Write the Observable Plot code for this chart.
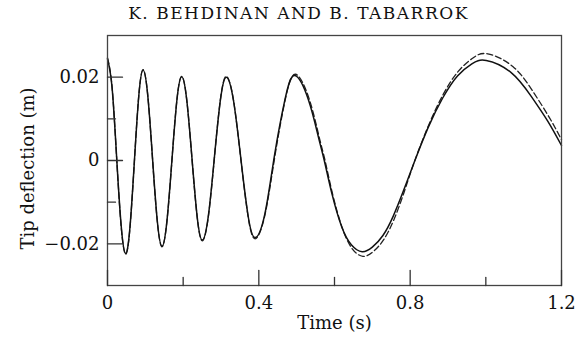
<!DOCTYPE html>
<html><head><meta charset="utf-8">
<script src="https://cdn.jsdelivr.net/npm/d3@7"></script>
<script src="https://cdn.jsdelivr.net/npm/@observablehq/plot@0.6"></script>
<style>body{margin:0;background:#fff;} #chart svg{font-family:"DejaVu Serif",serif;}</style>
</head><body><div id="chart"></div>
<script>
const title = "K. BEHDINAN AND B. TABARROK";
const xLabel = "Time (s)";
const yLabel = "Tip deflection (m)";
const xMajorTicks = [0, 0.4, 0.8, 1.2];
const xMinorTicks = [0.2, 0.6, 1.0];
const xTickLabels = ["0", "0.4", "0.8", "1.2"];
const yMajorTicks = [-0.02, 0, 0.02];
const yMinorTicks = [-0.01, 0.01];
const yTickLabels = ["\u22120.02", "0", "0.02"];

const solidT = [0.000,0.012,0.024,0.036,0.048,0.0595,0.071,0.0825,0.094,0.1065,0.119,0.1315,0.144,0.157,0.170,0.183,0.196,0.2096,0.2233,0.2369,0.2505,0.2664,0.2823,0.2981,0.314,0.333,0.352,0.371,0.390,0.416,0.441,0.469,0.495,0.531,0.557,0.573,0.593,0.619,0.645,0.673,0.700,0.728,0.755,0.783,0.810,0.848,0.886,0.925,0.963,1.001,1.067,1.120,1.164,1.200];
const solidY = [0.0244,0.0176,0.0010,-0.0155,-0.0223,-0.0159,-0.0003,0.0153,0.0217,0.0155,0.0005,-0.0144,-0.0206,-0.0146,-0.0003,0.0141,0.0201,0.0144,0.0005,-0.0134,-0.0191,-0.0134,0.0005,0.0143,0.0200,0.0144,0.0008,-0.0129,-0.0185,-0.0128,0.0010,0.0146,0.0204,0.0146,0.0058,0.0000,-0.0079,-0.0159,-0.0203,-0.0219,-0.0208,-0.0180,-0.0134,-0.0071,-0.0006,0.0080,0.0150,0.0203,0.0232,0.0240,0.0211,0.0154,0.0094,0.0036];

const dashedT = [0.000,0.012,0.024,0.036,0.048,0.0595,0.071,0.0825,0.094,0.1065,0.119,0.1315,0.144,0.157,0.170,0.183,0.196,0.2096,0.2233,0.2369,0.2505,0.2664,0.2823,0.2981,0.314,0.333,0.352,0.371,0.390,0.416,0.442,0.470,0.497,0.533,0.559,0.575,0.595,0.621,0.647,0.675,0.702,0.730,0.757,0.784,0.810,0.848,0.887,0.927,0.966,1.005,1.072,1.125,1.168,1.200];
const dashedY = [0.0246,0.0177,0.0009,-0.0157,-0.0225,-0.0160,-0.0003,0.0154,0.0218,0.0156,0.0004,-0.0145,-0.0207,-0.0147,-0.0003,0.0142,0.0202,0.0145,0.0004,-0.0135,-0.0193,-0.0136,0.0004,0.0144,0.0202,0.0145,0.0007,-0.0131,-0.0188,-0.0131,0.0008,0.0147,0.0207,0.0148,0.0058,0.0000,-0.0081,-0.0163,-0.0212,-0.0230,-0.0219,-0.0190,-0.0142,-0.0076,-0.0006,0.0083,0.0158,0.0214,0.0246,0.0256,0.0225,0.0165,0.0103,0.0050];

const solid = solidT.map((t, i) => ({t, v: solidY[i]}));
const dashed = dashedT.map((t, i) => ({t, v: dashedY[i]}));

const tickUp = {draw(ctx, l) { ctx.moveTo(0, 0); ctx.lineTo(0, -l); }};
const tickRight = {draw(ctx, l) { ctx.moveTo(0, 0); ctx.lineTo(l, 0); }};

const chart = Plot.plot({
  width: 575,
  height: 349,
  marginLeft: 107,
  marginRight: 14,
  marginTop: 35,
  marginBottom: 64,
  style: {fontFamily: "DejaVu Serif", fontSize: "18px", background: "#fff", color: "#111"},
  x: {domain: [0, 1.2]},
  y: {domain: [-0.03, 0.03]},
  marks: [
    Plot.line(dashed, {x: "t", y: "v", curve: "natural", stroke: "#222", strokeWidth: 1.3, strokeDasharray: "6,3"}),
    Plot.line(solid, {x: "t", y: "v", curve: "natural", stroke: "#111", strokeWidth: 1.5}),
    Plot.frame({stroke: "#444", strokeWidth: 1.3}),
    Plot.vector(xMajorTicks, {x: d => d, frameAnchor: "bottom", anchor: "start", length: 15, rotate: 0, shape: tickUp, stroke: "#333", strokeWidth: 1.3}),
    Plot.vector(xMinorTicks, {x: d => d, frameAnchor: "bottom", anchor: "start", length: 8, rotate: 0, shape: tickUp, stroke: "#333", strokeWidth: 1.3}),
    Plot.vector(yMajorTicks, {y: d => d, frameAnchor: "left", anchor: "start", length: 15, rotate: 0, shape: tickRight, stroke: "#333", strokeWidth: 1.3}),
    Plot.vector(yMinorTicks, {y: d => d, frameAnchor: "left", anchor: "start", length: 8, rotate: 0, shape: tickRight, stroke: "#333", strokeWidth: 1.3}),
    Plot.axisX({ticks: xMajorTicks, tickSize: 0, tickPadding: 11, tickFormat: (d, i) => xTickLabels[i], fontSize: 18, fill: "#111", label: null}),
    Plot.axisY({ticks: yMajorTicks, tickSize: 0, tickPadding: 8, tickFormat: (d, i) => yTickLabels[i], fontSize: 18, fill: "#111", label: null}),
    Plot.text([xLabel], {frameAnchor: "bottom", dy: 43, fontSize: 18, fill: "#111"}),
    Plot.text([yLabel], {frameAnchor: "left", textAnchor: "middle", dx: -79, dy: 8, rotate: -90, fontSize: 18, fill: "#111"}),
    Plot.text([title], {frameAnchor: "top", textAnchor: "middle", lineAnchor: "middle", dx: -36, dy: -22, fontSize: 17, fill: "#111"})
  ]
});
chart.querySelectorAll("text").forEach(el => {
  if (el.textContent === title) el.style.letterSpacing = "1.5px";
});
document.getElementById("chart").appendChild(chart);
</script>
</body></html>
